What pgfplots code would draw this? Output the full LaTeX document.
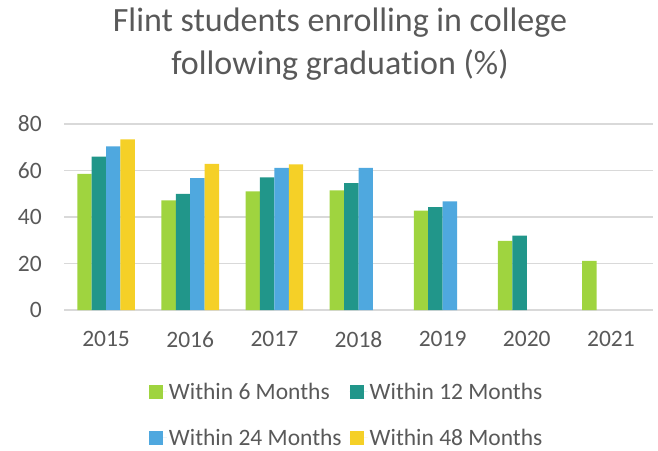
\documentclass[border=0pt]{standalone}
\usepackage{fontspec}
\setmainfont{Carlito}[Ligatures=NoCommon]
\usepackage{pgfplots}
\pgfplotsset{compat=1.18}
\definecolor{cgreen}{HTML}{9FD43F}
\definecolor{cteal}{HTML}{21968A}
\definecolor{cblue}{HTML}{4FA8DF}
\definecolor{cyellow}{HTML}{F5D027}
\definecolor{textgray}{HTML}{595959}
\definecolor{gridgray}{HTML}{D9D9D9}
\begin{document}
\begin{tikzpicture}
\path[use as bounding box] (0pt,0pt) rectangle (658pt,450pt);
\node[font=\fontsize{34}{40}\selectfont, text=textgray, anchor=base, inner sep=0pt] at (340pt,418.3pt) {Flint students enrolling in college};
\node[font=\fontsize{34}{40}\selectfont, text=textgray, anchor=base, inner sep=0pt] at (340pt,375pt) {following graduation (\%)};
\begin{axis}[
  at={(64pt,140pt)}, anchor=south west,
  scale only axis, width=589pt, height=186pt,
  ymin=0, ymax=80, xmin=-0.5, xmax=6.5,
  ybar=0pt, bar width=14.4pt,
  xtick={0,1,2,3,4,5,6},
  xticklabels={2015,2016,2017,2018,2019,2020,2021},
  ytick={0,20,40,60,80},
  axis line style={draw=none},
  major tick length=0pt,
  ymajorgrids,
  grid style={color=gridgray, line width=1.2pt},
  /pgf/number format/assume math mode=true,
  tick label style={font=\fontsize{23.5}{26}\selectfont, text=textgray},
  yticklabel style={inner sep=0pt, xshift=-22pt},
  xticklabel style={inner sep=0pt, yshift=-21pt},
  legend cell align=left,
  legend style={at={(0.48,-0.37)}, anchor=north, draw=none, fill=none,
    legend columns=2, font=\fontsize{23.5}{26}\selectfont, text=textgray,
    /tikz/every even column/.append style={column sep=6pt},
    row sep=24pt},
  legend image code/.code={\path[#1] (0pt,-7pt) rectangle (14pt,7pt); \path (0pt,0pt) -- (18pt,0pt);},
]
\addplot[fill=cgreen, draw=none] coordinates {(0,58.6) (1,47.1) (2,51.0) (3,51.4) (4,42.7) (5,29.7) (6,21.1)};
\addplot[fill=cteal, draw=none] coordinates {(0,66.0) (1,50.0) (2,57.0) (3,54.6) (4,44.3) (5,32.0)};
\addplot[fill=cblue, draw=none] coordinates {(0,70.4) (1,56.7) (2,61.1) (3,61.1) (4,46.7)};
\addplot[fill=cyellow, draw=none] coordinates {(0,73.4) (1,62.9) (2,62.6)};
\legend{Within 6 Months, Within 12 Months, Within 24 Months, Within 48 Months}
\end{axis}
\end{tikzpicture}
\end{document}
